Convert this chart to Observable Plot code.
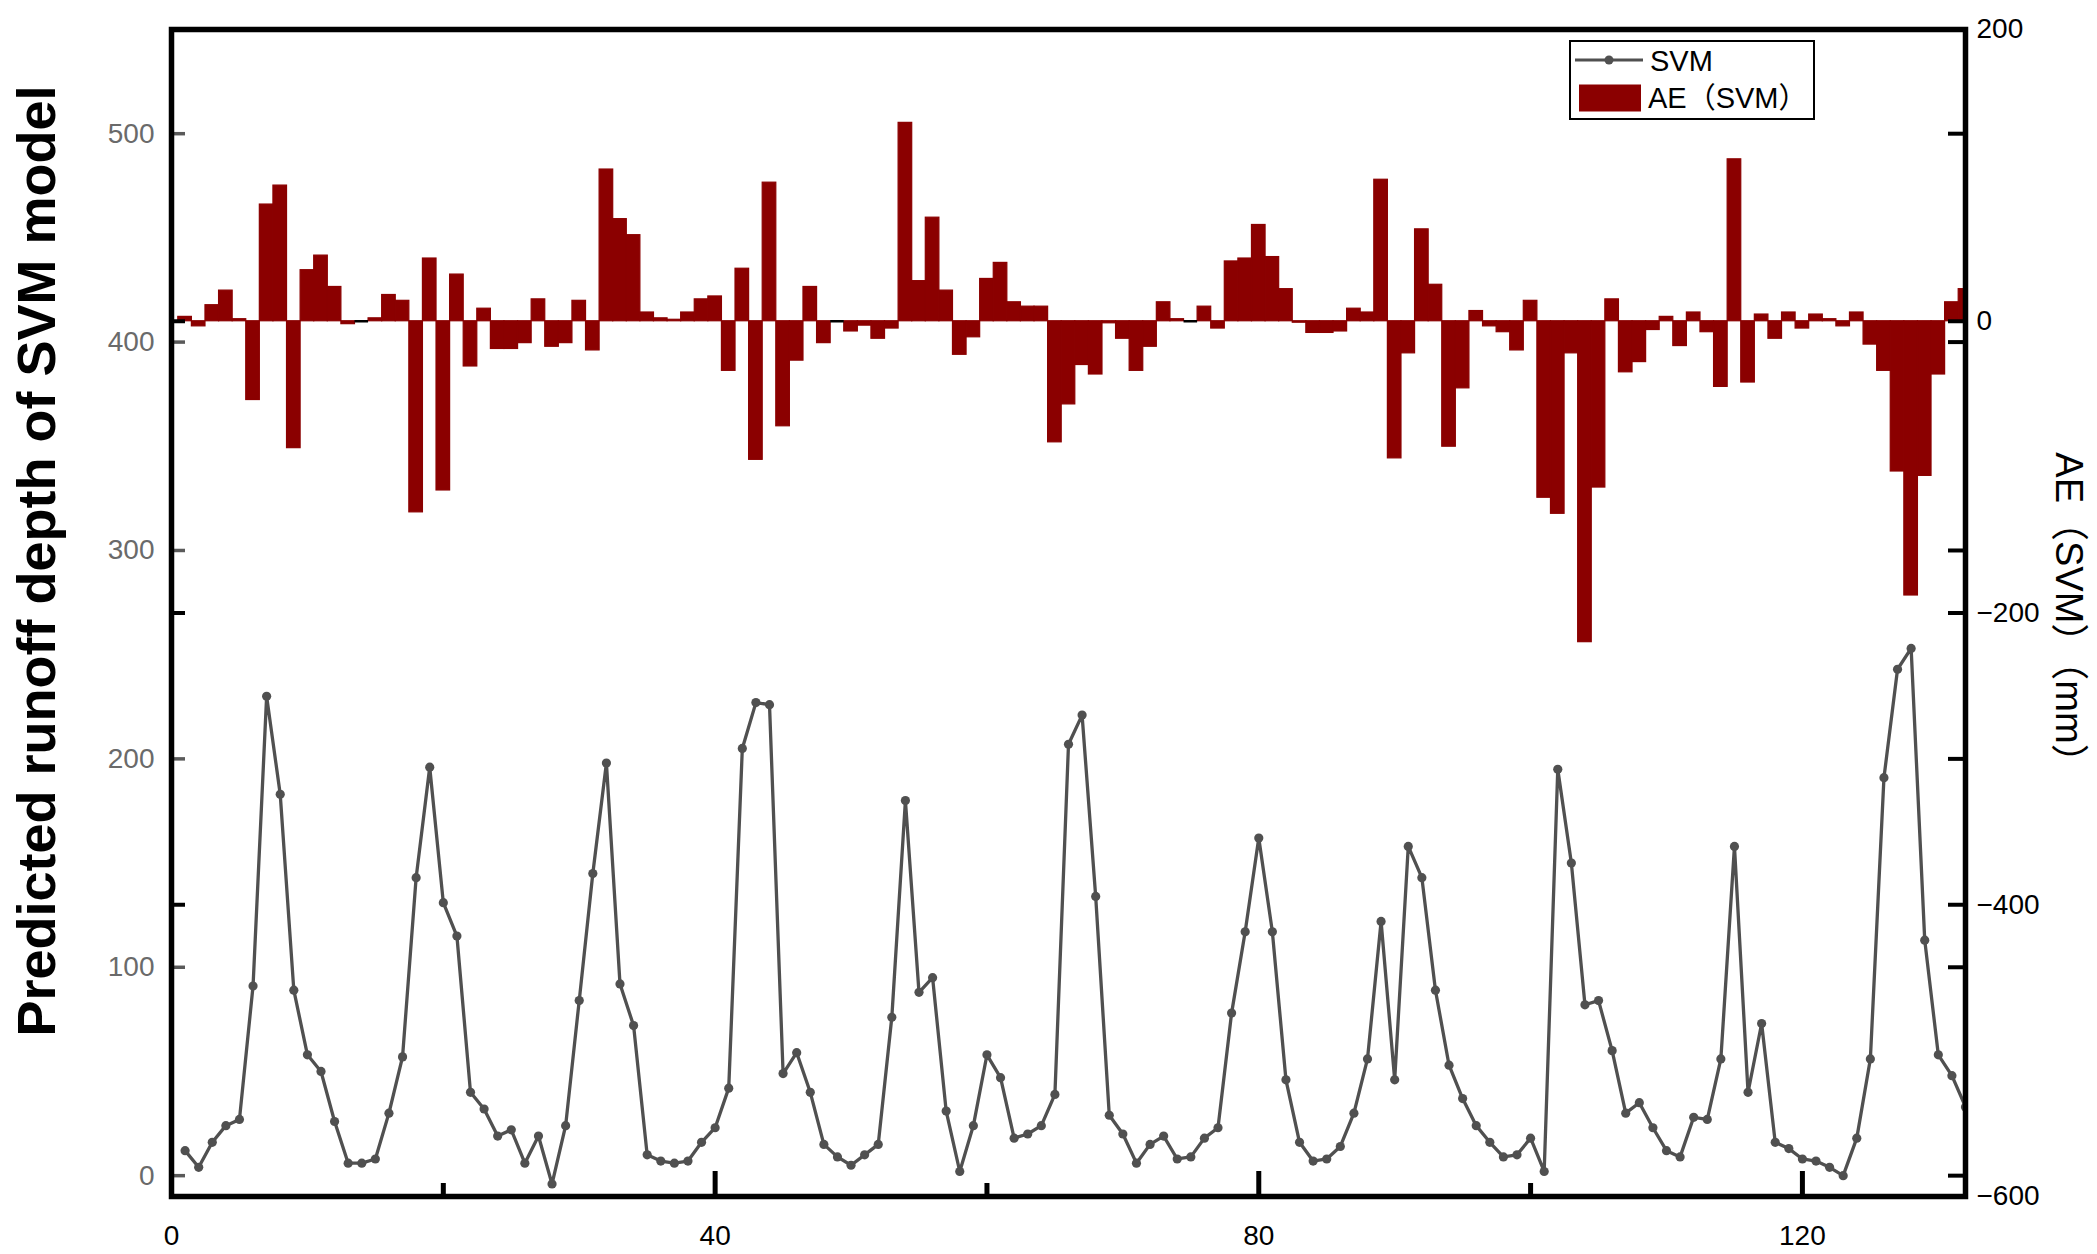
<!DOCTYPE html>
<html>
<head>
<meta charset="utf-8">
<script src="https://cdn.jsdelivr.net/npm/d3@7"></script>
<script src="https://cdn.jsdelivr.net/npm/@observablehq/plot@0.6"></script>
<style>
  html, body { margin: 0; padding: 0; background: #ffffff; }
  #wrap { position: relative; width: 2097px; height: 1254px; overflow: hidden; background: #ffffff; }
  #wrap svg { position: absolute; left: 0; top: 0; }
</style>
</head>
<body>
<div id="wrap"></div>
<script>
// ---------------- DATA ----------------
// Predicted runoff depth of SVM model (left axis), samples 1..132
const svmValues = [
  12, 4, 16, 24, 27, 91, 230, 183, 89, 58,
  50, 26, 6, 6, 8, 30, 57, 143, 196, 131,
  115, 40, 32, 19, 22, 6, 19, -4, 24, 84,
  145, 198, 92, 72, 10, 7, 6, 7, 16, 23,
  42, 205, 227, 226, 49, 59, 40, 15, 9, 5,
  10, 15, 76, 180, 88, 95, 31, 2, 24, 58,
  47, 18, 20, 24, 39, 207, 221, 134, 29, 20,
  6, 15, 19, 8, 9, 18, 23, 78, 117, 162,
  117, 46, 16, 7, 8, 14, 30, 56, 122, 46,
  158, 143, 89, 53, 37, 24, 16, 9, 10, 18,
  2, 195, 150, 82, 84, 60, 30, 35, 23, 12,
  9, 28, 27, 56, 158, 40, 73, 16, 13, 8,
  7, 4, 0, 18, 56, 191, 243, 253, 113, 58,
  48, 33
];
// AE (SVM) in mm (right axis), samples 1..132
const aeValues = [
  3, -3.5, 11, 21, 1.4, -54, 80, 93, -87, 35,
  45, 23.5, -2, 0, 2, 18, 14, -131, 43, -116,
  32, -31, 8.6, -19, -19, -15, 15, -17.5, -15, 14,
  -20, 104, 70, 59, 6, 2, 1, 6, 15, 17,
  -34, 36, -95, 95, -72, -27, 23.5, -15, 0, -7,
  -3, -12, -5, 136, 27.5, 71, 21, -23, -11, 29,
  40, 13, 10, 10, -83, -57, -30, -36.5, -1.4, -12,
  -34, -17.5, 13, 1.4, 0, 10, -5, 41, 43, 66,
  44, 22, -1, -8, -8, -7, 8.6, 6, 97, -94,
  -22, 63, 25, -86, -46, 7, -3.5, -7.5, -20, 14,
  -121, -132, -22, -220, -114, 15, -35, -28, -6, 3,
  -17, 6, -7.5, -45, 111, -42, 4.6, -12, 6, -5,
  4.6, 1.4, -3.5, 6, -16, -34, -103, -188, -106, -36.5,
  13, 22
];
const xLabelTicks = [0, 40, 80, 120];
const xMajorTicks = [40, 80, 120];
const xMinorTicks = [20, 60, 100];
const leftTicks = [0, 100, 200, 300, 400, 500];
const rightTicks = [200, 0, -200, -400, -600];
const xDomain = [0, 132];
const leftDomain = [-10, 550];
const rightDomain = [-600, 200];
const seriesNames = ["SVM", "AE\uFF08SVM\uFF09"];
const leftTitle = "Predicted runoff depth of SVM model";
const rightTitle = "AE\uFF08SVM\uFF09\uFF08mm\uFF09";

// ---------------- BUILD ----------------
const svmData = svmValues.map((v, i) => ({x: i + 1, y: v}));
const aeData = aeValues.map((v, i) => ({x: i + 1, ae: v}));

const W = 2097, H = 1254;
const M = {top: 29, right: 132, bottom: 58, left: 171};
const plotW = W - M.left - M.right;
const plotH = H - M.top - M.bottom;
const FONT = "'Liberation Sans', Arial, 'Noto Sans CJK SC', sans-serif";
const LINE = "#505050";
const BAR = "#8B0000";

const common = {
  width: W, height: H,
  marginTop: M.top, marginRight: M.right, marginBottom: M.bottom, marginLeft: M.left,
  style: {background: "transparent", fontFamily: FONT, fontSize: "28px", color: "black", overflow: "visible"}
};

// Bars (right axis)
const pBars = Plot.plot({
  ...common,
  x: {domain: xDomain, axis: null},
  y: {domain: rightDomain, axis: null},
  marks: [
    Plot.rectY(aeData, {
      x1: d => d.x - 0.5, x2: d => d.x + 0.5, y1: d => 0, y2: "ae",
      fill: BAR, stroke: BAR, strokeWidth: 1.2, clip: true
    }),
    Plot.ruleY(aeData.filter(d => d.ae === 0), {
      y: d => d.ae, x1: d => d.x - 0.5, x2: d => d.x + 0.5, stroke: "black", strokeWidth: 2.5
    }),
    Plot.axisY(rightTicks, {anchor: "right", tickSize: 0, tickPadding: 11, fontSize: 28, fill: "black", label: null, textAnchor: "start"}),
    Plot.tickY(rightTicks, {y: d => d, insetRight: plotW - 14, stroke: "black", strokeWidth: 4}),
    Plot.tickY(rightTicks, {y: d => d, insetLeft: plotW - 17, stroke: "black", strokeWidth: 4})
  ]
});

// Line (left axis) + frame
const pLine = Plot.plot({
  ...common,
  x: {domain: xDomain},
  y: {domain: leftDomain},
  marks: [
    Plot.axisX(xLabelTicks, {anchor: "bottom", tickSize: 0, tickPadding: 29, fontSize: 28, fill: "black", label: null}),
    Plot.axisY(leftTicks, {anchor: "left", tickSize: 0, tickPadding: 17, fontSize: 28, fill: "#6a6a6a", label: null}),
    Plot.tickY(leftTicks, {y: d => d, insetRight: plotW - 14, stroke: "#5a5a5a", strokeWidth: 3.5}),
    Plot.tickY(leftTicks, {y: d => d, insetLeft: plotW - 17, stroke: "black", strokeWidth: 4}),
    Plot.tickX(xMajorTicks, {x: d => d, insetTop: plotH - 25, stroke: "black", strokeWidth: 5}),
    Plot.tickX(xMinorTicks, {x: d => d, insetTop: plotH - 13, stroke: "black", strokeWidth: 5}),
    Plot.line(svmData, {x: "x", y: "y", stroke: LINE, strokeWidth: 3.3, clip: true}),
    Plot.dot(svmData, {x: "x", y: "y", r: 4.6, fill: LINE, stroke: "none", clip: true}),
    Plot.frame({stroke: "black", strokeWidth: 5.5})
  ]
});

const wrap = document.getElementById("wrap");
wrap.appendChild(pBars);
wrap.appendChild(pLine);

// Titles and legend overlay
const ns = "http://www.w3.org/2000/svg";
const ov = document.createElementNS(ns, "svg");
ov.setAttribute("width", W);
ov.setAttribute("height", H);
ov.style.fontFamily = FONT;
function el(tag, attrs, text) {
  const e = document.createElementNS(ns, tag);
  for (const k in attrs) e.setAttribute(k, attrs[k]);
  if (text != null) e.textContent = text;
  ov.appendChild(e);
  return e;
}
el("text", {transform: "translate(55,561) rotate(-90)", "text-anchor": "middle", "font-weight": "bold", "font-size": 54, fill: "black"}, leftTitle);
el("text", {transform: "translate(2056,617) rotate(90)", "text-anchor": "middle", "font-size": 38, fill: "black"}, rightTitle);
// legend
el("rect", {x: 1570, y: 41, width: 244, height: 78, fill: "white", stroke: "black", "stroke-width": 2});
el("line", {x1: 1575, x2: 1643, y1: 60, y2: 60, stroke: LINE, "stroke-width": 3});
el("circle", {cx: 1609, cy: 60, r: 4.5, fill: LINE});
el("text", {x: 1650, y: 71, "font-size": 29, fill: "black"}, seriesNames[0]);
el("rect", {x: 1579, y: 84.5, width: 62, height: 27, fill: BAR});
el("text", {x: 1648, y: 108, "font-size": 29, fill: "black"}, seriesNames[1]);
wrap.appendChild(ov);
</script>
</body>
</html>
